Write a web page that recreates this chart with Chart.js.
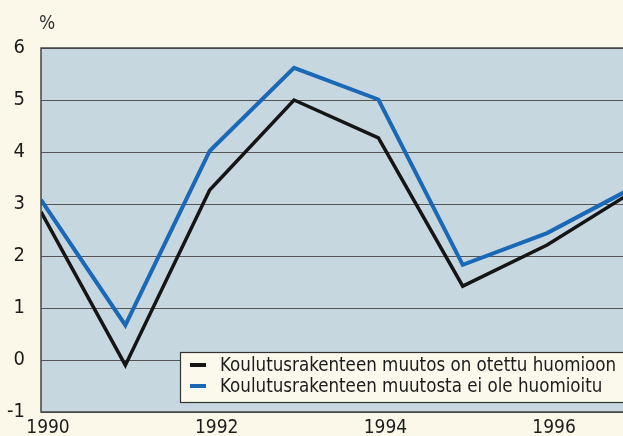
<!DOCTYPE html>
<html>
<head>
<meta charset="utf-8">
<script src="https://cdn.jsdelivr.net/npm/chart.js@4.4.1/dist/chart.umd.min.js"></script>
<style>
  html, body { margin: 0; padding: 0; background: #fbf8ea; }
  #wrap { width: 623px; height: 436px; position: relative; }
</style>
</head>
<body>
<div id="wrap"><canvas id="c" width="623" height="436"></canvas></div>
<script>
// ---- data ----
const years = [1990, 1991, 1992, 1993, 1994, 1995, 1996, 1997];
const seriesAdjusted = [2.85, -0.1, 3.27, 5.0, 4.27, 1.42, 2.21, 3.22];
const seriesUnadjusted = [3.08, 0.67, 4.02, 5.62, 5.01, 1.83, 2.44, 3.30];
const seriesLabels = [
  'Koulutusrakenteen muutos on otettu huomioon',
  'Koulutusrakenteen muutosta ei ole huomioitu'
];
const xTickLabels = ['1990', '1992', '1994', '1996'];
const yTickLabels = ['-1', '0', '1', '2', '3', '4', '5', '6'];
const unitLabel = '%';

const FONT = '"Liberation Sans Narrow", "DejaVu Sans Condensed", "Liberation Sans", sans-serif';

const toPoints = vals => years.map((y, i) => ({ x: y, y: vals[i] }));

const bgPlugin = {
  id: 'plotBg',
  beforeDraw(chart) {
    const { ctx, chartArea: a } = chart;
    ctx.save();
    ctx.fillStyle = '#c6d7e0';
    ctx.fillRect(a.left, a.top, a.right - a.left, a.bottom - a.top);
    ctx.restore();
  }
};

const extrasPlugin = {
  id: 'extras',
  afterDraw(chart) {
    const { ctx, chartArea: a } = chart;
    ctx.save();
    // unit label
    ctx.fillStyle = '#333';
    ctx.font = '19px ' + FONT;
    ctx.textAlign = 'left';
    ctx.textBaseline = 'alphabetic';
    ctx.fillText(unitLabel, 39, 29);
    // plot frame (left, top, bottom)
    ctx.strokeStyle = '#444';
    ctx.lineWidth = 1.5;
    ctx.beginPath();
    ctx.moveTo(a.right + 2, a.top);
    ctx.lineTo(a.left, a.top);
    ctx.lineTo(a.left, a.bottom);
    ctx.lineTo(a.right + 2, a.bottom);
    ctx.stroke();
    // legend box
    const bx = 180, by = 352, bw = 460, bh = 50;
    ctx.fillStyle = '#fbf9ec';
    ctx.fillRect(bx, by, bw, bh);
    ctx.strokeStyle = '#333';
    ctx.lineWidth = 1.2;
    ctx.strokeRect(bx + 0.5, by + 0.5, bw, bh);
    const colors = chart.data.datasets.map(d => d.borderColor);
    ctx.font = '18.6px ' + FONT;
    ctx.textBaseline = 'middle';
    chart.data.datasets.forEach((d, i) => {
      const cy = by + 13 + i * 21;
      ctx.strokeStyle = colors[i];
      ctx.lineWidth = 4;
      ctx.beginPath();
      ctx.moveTo(190, cy);
      ctx.lineTo(206, cy);
      ctx.stroke();
      ctx.fillStyle = '#1c1c1c';
      ctx.fillText(d.label, 220, cy + 1);
    });
    ctx.restore();
  }
};

new Chart(document.getElementById('c'), {
  type: 'line',
  data: {
    datasets: [
      { label: seriesLabels[0], data: toPoints(seriesAdjusted), borderColor: '#151515', borderWidth: 3.5, pointRadius: 0, tension: 0, fill: false },
      { label: seriesLabels[1], data: toPoints(seriesUnadjusted), borderColor: '#1a68b6', borderWidth: 4, pointRadius: 0, tension: 0, fill: false }
    ]
  },
  options: {
    responsive: false,
    animation: false,
    layout: { padding: { left: 0, right: 0, top: 48, bottom: 0 } },
    plugins: { legend: { display: false }, tooltip: { enabled: false } },
    scales: {
      x: {
        type: 'linear',
        min: 1990,
        max: 1996.9,
        afterBuildTicks(scale) { scale.ticks = xTickLabels.map(v => ({ value: Number(v) })); },
        afterFit(scale) { scale.height = 24; scale.paddingLeft = 0; scale.paddingRight = 0; },
        ticks: {
          callback: (v) => String(v),
          font: { family: FONT, size: 19 },
          color: '#1c1c1c',
          labelOffset: 7,
          padding: 5,
          maxRotation: 0,
          autoSkip: false
        },
        grid: { display: false, drawTicks: false },
        border: { display: false }
      },
      y: {
        min: -1,
        max: 6,
        afterBuildTicks(scale) { scale.ticks = yTickLabels.map(v => ({ value: Number(v) })); },
        afterFit(scale) { scale.width = 41; scale.paddingTop = 0; scale.paddingBottom = 0; },
        ticks: {
          callback: (v) => String(v),
          font: { family: FONT, size: 20 },
          color: '#1c1c1c',
          padding: 16
        },
        grid: { color: '#555', lineWidth: 1, drawTicks: false },
        border: { display: false }
      }
    }
  },
  plugins: [bgPlugin, extrasPlugin]
});
</script>
</body>
</html>
